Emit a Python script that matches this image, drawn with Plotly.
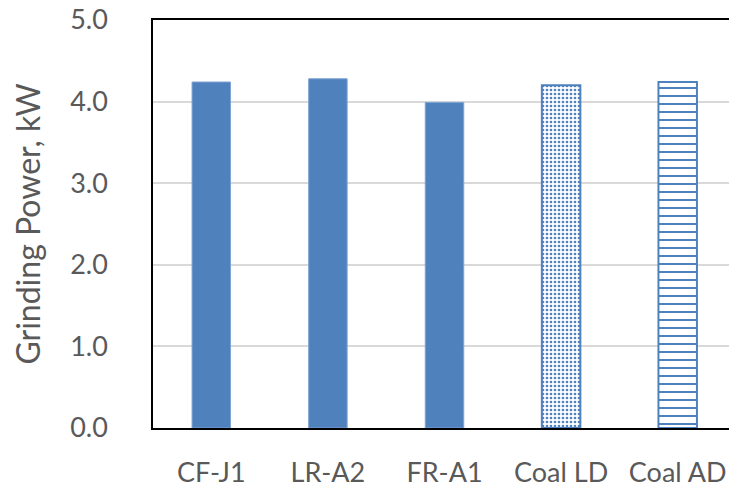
import plotly.graph_objects as go

categories = ["CF-J1", "LR-A2", "FR-A1", "Coal LD", "Coal AD"]
power_kw = [4.24, 4.28, 3.99, 4.20, 4.24]
y_ticks = [0, 1, 2, 3, 4, 5]
y_tick_labels = ["0.0", "1.0", "2.0", "3.0", "4.0", "5.0"]

blue = "#4F81BD"

fig = go.Figure()
# solid bars
fig.add_trace(go.Bar(
    x=categories[:3], y=power_kw[:3], width=0.33,
    marker=dict(color=blue, line=dict(color="#7FA3D3", width=1)),
    showlegend=False,
))
# dotted pattern bar
fig.add_trace(go.Bar(
    x=[categories[3]], y=[power_kw[3]], width=0.33,
    marker=dict(
        color="white",
        line=dict(color=blue, width=2),
        pattern=dict(shape=".", fgcolor=blue, bgcolor="white",
                     size=4, solidity=0.35, fillmode="replace"),
    ),
    showlegend=False,
))
# horizontal-line pattern bar
fig.add_trace(go.Bar(
    x=[categories[4]], y=[power_kw[4]], width=0.33,
    marker=dict(
        color="white",
        line=dict(color=blue, width=2),
        pattern=dict(shape="-", fgcolor=blue, bgcolor="white",
                     size=8, solidity=0.25, fillmode="replace"),
    ),
    showlegend=False,
))

font_family = "Lato, 'Open Sans', sans-serif"
fig.update_layout(
    width=737, height=500,
    margin=dict(l=145, r=9, t=12, b=80, autoexpand=False),
    plot_bgcolor="white", paper_bgcolor="white",
    font=dict(family=font_family, color="#595959", size=27),
    barmode="overlay",
)
fig.update_xaxes(
    categoryorder="array", categoryarray=categories,
    automargin=False,
    showline=True, linecolor="black", linewidth=1.5, mirror=True,
    ticks="outside", ticklen=20, tickcolor="rgba(0,0,0,0)",
    tickfont=dict(size=27, color="#595959"),
    showgrid=False,
)
fig.update_yaxes(
    range=[0, 5], tickvals=y_ticks, ticktext=y_tick_labels,
    ticklabeloverflow="allow", automargin=False,
    showline=True, linecolor="black", linewidth=1.5, mirror=True,
    showgrid=True, gridcolor="#D9D9D9", gridwidth=1.5,
    ticks="outside", ticklen=38, tickcolor="rgba(0,0,0,0)",
    tickfont=dict(size=27, color="#595959"),
    title=dict(text="Grinding Power, kW", font=dict(size=32, color="#595959"), standoff=22),
    zeroline=False,
)
fig.write_html("out.html")
